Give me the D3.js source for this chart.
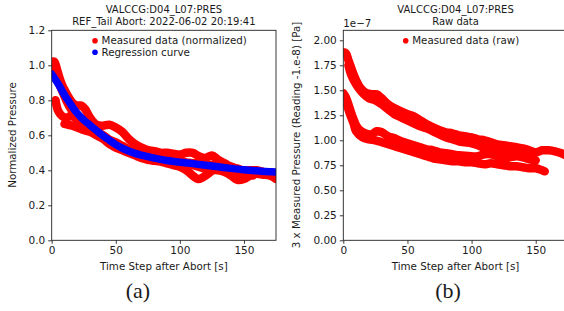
<!DOCTYPE html>
<html><head><meta charset="utf-8">
<script src="https://cdn.jsdelivr.net/npm/d3@7"></script>
<style>
body{margin:0;background:#fff;}
svg{display:block;}
text{font-family:"DejaVu Sans",sans-serif;fill:#1a1a1a;}
</style></head>
<body>
<svg id="c" width="564" height="311"></svg>
<script>
// ---------- DATA ----------
const xTicks = [0, 50, 100, 150];
const yTicksA = [0.0, 0.2, 0.4, 0.6, 0.8, 1.0, 1.2];
const yTicksB = [0.00, 0.25, 0.50, 0.75, 1.00, 1.25, 1.50, 1.75, 2.00];

// (a) normalized measured traces [time, value]
const normA1 = [[0,1.02],[2,1.02],[4,0.98],[6,0.93],[8,0.89],[10,0.86],[13,0.82],[17,0.78],[20,0.77],[23,0.77],[26,0.75],[30,0.70],[35,0.66],[40,0.655],[45,0.66],[50,0.645],[55,0.62],[60,0.58],[65,0.55],[70,0.53],[75,0.515],[80,0.51],[85,0.50],[90,0.50],[95,0.495],[100,0.49],[105,0.50],[110,0.50],[115,0.48],[120,0.47],[125,0.485],[130,0.46],[135,0.44],[140,0.42],[145,0.41],[150,0.40],[155,0.40],[160,0.40],[165,0.39],[170,0.38],[175,0.37]];
const normA2 = [[0,0.98],[3,0.94],[6,0.89],[9,0.84],[12,0.79],[15,0.75],[20,0.70],[25,0.67],[30,0.64],[35,0.62],[40,0.60],[45,0.57],[50,0.55],[55,0.53],[60,0.51],[65,0.495],[70,0.48],[75,0.475],[80,0.47],[85,0.465],[90,0.46],[95,0.455],[100,0.45],[105,0.445],[110,0.44],[115,0.44],[120,0.43],[125,0.43],[130,0.43],[135,0.41],[140,0.40],[145,0.39],[150,0.38],[155,0.38],[160,0.38],[165,0.375],[170,0.37],[175,0.35]];
const normA3 = [[10,0.665],[13,0.66],[16,0.655],[20,0.645],[25,0.63],[30,0.62],[35,0.60],[40,0.58],[45,0.55],[50,0.53],[55,0.515],[60,0.50],[65,0.485],[70,0.47],[75,0.46],[80,0.455],[85,0.45],[90,0.44],[95,0.43],[100,0.42],[105,0.40],[110,0.37],[114,0.35],[118,0.36],[122,0.38],[126,0.40],[130,0.40],[135,0.39],[140,0.37],[145,0.345],[150,0.35],[155,0.37],[157,0.37]];
const normA4 = [[3,0.80],[5,0.74],[8,0.71],[11,0.70],[15,0.71],[18,0.70],[22,0.67],[26,0.65],[30,0.63],[35,0.615],[40,0.60],[45,0.575],[50,0.56],[55,0.54],[60,0.52],[65,0.505],[70,0.49],[75,0.48],[80,0.475],[85,0.47],[90,0.465],[95,0.46],[100,0.45],[105,0.44],[110,0.43],[115,0.42],[120,0.41],[125,0.43],[130,0.44],[135,0.43],[140,0.42],[145,0.40],[150,0.39],[155,0.38],[157,0.38]];
// (a) regression curve
const regression = [[0,0.95],[5,0.895],[10,0.83],[15,0.775],[20,0.725],[25,0.688],[30,0.657],[35,0.627],[40,0.598],[45,0.572],[50,0.547],[55,0.527],[60,0.51],[65,0.497],[70,0.487],[75,0.478],[80,0.47],[90,0.456],[100,0.446],[110,0.438],[120,0.429],[130,0.42],[140,0.411],[150,0.403],[160,0.397],[170,0.392],[175,0.39]];

// (b) raw measured traces [time, value x1e-7]
const rawB1 = [[0,1.88],[2,1.87],[4,1.80],[6,1.73],[8,1.66],[10,1.60],[13,1.53],[17,1.48],[22,1.46],[26,1.46],[30,1.42],[35,1.36],[40,1.32],[45,1.29],[50,1.26],[55,1.24],[60,1.20],[65,1.16],[70,1.13],[75,1.10],[80,1.08],[85,1.07],[90,1.05],[95,1.04],[100,1.03],[105,1.01],[110,1.00],[115,0.98],[120,0.96],[125,0.95],[130,0.94],[135,0.93],[140,0.92],[145,0.90],[150,0.88],[155,0.90],[160,0.90],[165,0.89],[170,0.87],[175,0.84]];
const rawB2 = [[4,1.75],[6,1.66],[9,1.58],[12,1.52],[16,1.46],[20,1.42],[25,1.40],[30,1.36],[35,1.31],[40,1.26],[45,1.23],[50,1.20],[55,1.17],[60,1.14],[65,1.12],[70,1.09],[75,1.06],[80,1.03],[85,1.01],[90,0.99],[95,0.98],[100,0.97],[105,0.95],[110,0.92],[115,0.90],[120,0.88],[125,0.90],[130,0.88],[135,0.86],[140,0.85],[145,0.83]];
const rawB3 = [[0,1.47],[2,1.43],[4,1.36],[6,1.28],[8,1.21],[10,1.15],[13,1.10],[17,1.07],[22,1.06],[26,1.09],[30,1.08],[35,1.04],[40,1.02],[45,0.99],[50,0.97],[55,0.95],[60,0.93],[65,0.91],[70,0.90],[75,0.88],[80,0.87],[85,0.86],[90,0.85],[100,0.84],[105,0.84],[110,0.86],[115,0.86],[120,0.84],[125,0.82],[130,0.83],[135,0.84],[140,0.83],[145,0.81],[150,0.80]];
const rawB4 = [[3,1.35],[5,1.27],[8,1.17],[10,1.09],[15,1.03],[20,1.01],[25,1.00],[30,0.98],[35,0.96],[40,0.94],[45,0.92],[50,0.90],[55,0.88],[60,0.86],[65,0.84],[70,0.82],[75,0.81],[80,0.80],[85,0.79],[90,0.79],[95,0.78],[100,0.78],[105,0.77],[110,0.76],[115,0.77],[120,0.76],[125,0.75],[130,0.74],[135,0.74],[140,0.73],[145,0.72],[150,0.72],[155,0.70],[157,0.69]];

// ---------- DRAW ----------
const svg = d3.select("#c");
const RED = "#ff0000", BLUE = "#0000ff", AX = "#222";

function panel(o){
  const x = d3.scaleLinear().domain([0,175]).range([o.x0, o.x1]);
  const y = d3.scaleLinear().domain(o.yDom).range([240.3, 30.3]);
  const g = svg.append("g");
  const clipId = "clip"+o.id;
  svg.append("clipPath").attr("id", clipId).append("rect")
    .attr("x", o.x0).attr("y", 30.3).attr("width", o.x1-o.x0).attr("height", 210);
  const plot = g.append("g").attr("clip-path", `url(#${clipId})`);
  const line = d3.line().x(d=>x(d[0])).y(d=>y(d[1])).curve(d3.curveCatmullRom);
  o.red.forEach(s=>{
    plot.append("path").attr("d", line(s)).attr("fill","none")
      .attr("stroke", RED).attr("stroke-width", 8.5)
      .attr("stroke-linecap","round").attr("stroke-linejoin","round");
  });
  if (o.blue){
    plot.append("path").attr("d", line(o.blue)).attr("fill","none")
      .attr("stroke", BLUE).attr("stroke-width", 7.5)
      .attr("stroke-linecap","round").attr("stroke-linejoin","round");
  }
  // frame
  g.append("rect").attr("x", o.x0).attr("y", 30.3).attr("width", o.x1-o.x0).attr("height", 210)
    .attr("fill","none").attr("stroke", AX).attr("stroke-width", 0.9);
  // axes
  const xa = g.append("g").attr("transform","translate(0,240.3)")
    .call(d3.axisBottom(x).tickValues(xTicks).tickFormat(d3.format("d")).tickSize(3.5).tickPadding(2.5));
  const ya = g.append("g").attr("transform",`translate(${o.x0},0)`)
    .call(d3.axisLeft(y).tickValues(o.yTicks).tickFormat(d3.format(o.fmt)).tickSize(3.5).tickPadding(3));
  [xa, ya].forEach(a=>{
    a.select(".domain").remove();
    a.selectAll("line").attr("stroke", AX).attr("stroke-width", 0.9);
    a.selectAll("text").attr("font-family","DejaVu Sans").attr("font-size", 10.5).attr("fill","#1a1a1a");
  });
  // titles
  o.titles.forEach((t,i)=>{
    g.append("text").attr("x",(o.x0+o.x1)/2).attr("y", 13 + i*12).attr("text-anchor","middle")
      .attr("font-size", 10).text(t);
  });
  g.append("text").attr("x",(o.x0+o.x1)/2).attr("y", 270).attr("text-anchor","middle")
    .attr("font-size", 10.3).text("Time Step after Abort [s]");
  g.append("text").attr("transform",`translate(${o.ylx},135) rotate(-90)`).attr("text-anchor","middle")
    .attr("font-size", o.ylSize).text(o.ylabel);
  // legend
  o.legend.forEach((L,i)=>{
    g.append("circle").attr("cx", o.legX).attr("cy", 40.7 + i*11.6).attr("r", 2.8).attr("fill", L[1]);
    g.append("text").attr("x", o.legX+6.5).attr("y", 44.3 + i*11.6).attr("font-size", 10.3).text(L[0]);
  });
  return {x,y,g};
}

panel({id:"a", x0:51.7, x1:276, yDom:[0,1.2], yTicks:yTicksA, fmt:".1f",
  red:[normA3, normA4, normA2, normA1], blue:regression,
  titles:["VALCCG:D04_L07:PRES","REF_Tail Abort: 2022-06-02 20:19:41"],
  ylx:16, ylabel:"Normalized Pressure", ylSize:10.3,
  legX:95, legend:[["Measured data (normalized)",RED],["Regression curve",BLUE]]});

panel({id:"b", x0:343.3, x1:567.8, yDom:[0,2.1], yTicks:yTicksB, fmt:".2f",
  red:[rawB4, rawB3, rawB2, rawB1], blue:null,
  titles:["VALCCG:D04_L07:PRES","Raw data"],
  ylx:300, ylabel:"3 x Measured Pressure (Reading -1.e-8) [Pa]", ylSize:10.3,
  legX:405.7, legend:[["Measured data (raw)",RED]]});

svg.append("text").attr("x",343.3).attr("y",27).attr("font-size",10.3).text("1e\u22127");

svg.append("text").attr("x",138).attr("y",298).attr("text-anchor","middle")
  .style("font-family","'Liberation Serif',serif").attr("font-size",22).text("(a)");
svg.append("text").attr("x",448).attr("y",298).attr("text-anchor","middle")
  .style("font-family","'Liberation Serif',serif").attr("font-size",22).text("(b)");
</script>
</body></html>
